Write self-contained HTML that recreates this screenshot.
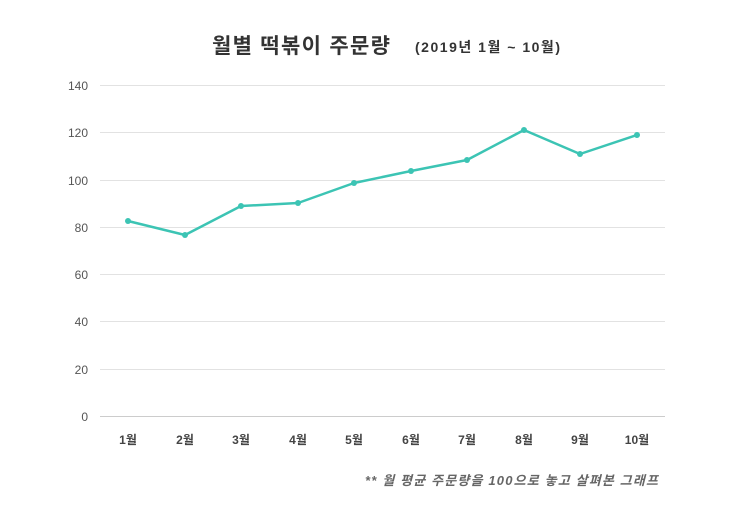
<!DOCTYPE html>
<html><head><meta charset="utf-8"><style>
body{margin:0;background:#fff}
svg{display:block}
text{font-family:"Liberation Sans","Noto Sans CJK KR",sans-serif}
</style></head><body>
<svg width="745" height="522" viewBox="0 0 745 522">
<text x="212" y="53" font-size="21" font-weight="bold" fill="#333" textLength="178">월별 떡볶이 주문량</text>
<text x="415" y="52" font-size="14" font-weight="bold" fill="#333" textLength="145">(2019년 1월 ~ 10월)</text>
<g stroke="#e2e2e2" stroke-width="1">
<line x1="100" x2="665" y1="85.5" y2="85.5"/>
<line x1="100" x2="665" y1="132.5" y2="132.5"/>
<line x1="100" x2="665" y1="180.5" y2="180.5"/>
<line x1="100" x2="665" y1="227.5" y2="227.5"/>
<line x1="100" x2="665" y1="274.5" y2="274.5"/>
<line x1="100" x2="665" y1="321.5" y2="321.5"/>
<line x1="100" x2="665" y1="369.5" y2="369.5"/>
</g>
<line x1="100" x2="665" y1="416.5" y2="416.5" stroke="#ccc"/>
<g font-size="12" fill="#555" text-anchor="end">
<text x="88" y="90">140</text><text x="88" y="137">120</text><text x="88" y="185">100</text>
<text x="88" y="232">80</text><text x="88" y="279">60</text><text x="88" y="326">40</text>
<text x="88" y="374">20</text><text x="88" y="421">0</text>
</g>
<g font-size="12" font-weight="bold" fill="#444" text-anchor="middle">
<text x="128" y="444">1월</text><text x="185" y="444">2월</text><text x="241" y="444">3월</text>
<text x="298" y="444">4월</text><text x="354" y="444">5월</text><text x="411" y="444">6월</text>
<text x="467" y="444">7월</text><text x="524" y="444">8월</text><text x="580" y="444">9월</text>
<text x="637" y="444">10월</text>
</g>
<polyline fill="none" stroke="#3cc4b4" stroke-width="2.5" stroke-linejoin="round"
points="128,221 185,235 241,206 298,203 354,183 411,171 467,160 524,130 580,154 637,135"/>
<g fill="#3cc4b4">
<circle cx="128" cy="221" r="3"/><circle cx="185" cy="235" r="3"/><circle cx="241" cy="206" r="3"/>
<circle cx="298" cy="203" r="3"/><circle cx="354" cy="183" r="3"/><circle cx="411" cy="171" r="3"/>
<circle cx="467" cy="160" r="3"/><circle cx="524" cy="130" r="3"/><circle cx="580" cy="154" r="3"/>
<circle cx="637" cy="135" r="3"/>
</g>
<text x="365" y="485" font-size="13" font-style="italic" font-weight="bold" fill="#666" textLength="293">** 월 평균 주문량을 100으로 놓고 살펴본 그래프</text>
</svg>
</body></html>
